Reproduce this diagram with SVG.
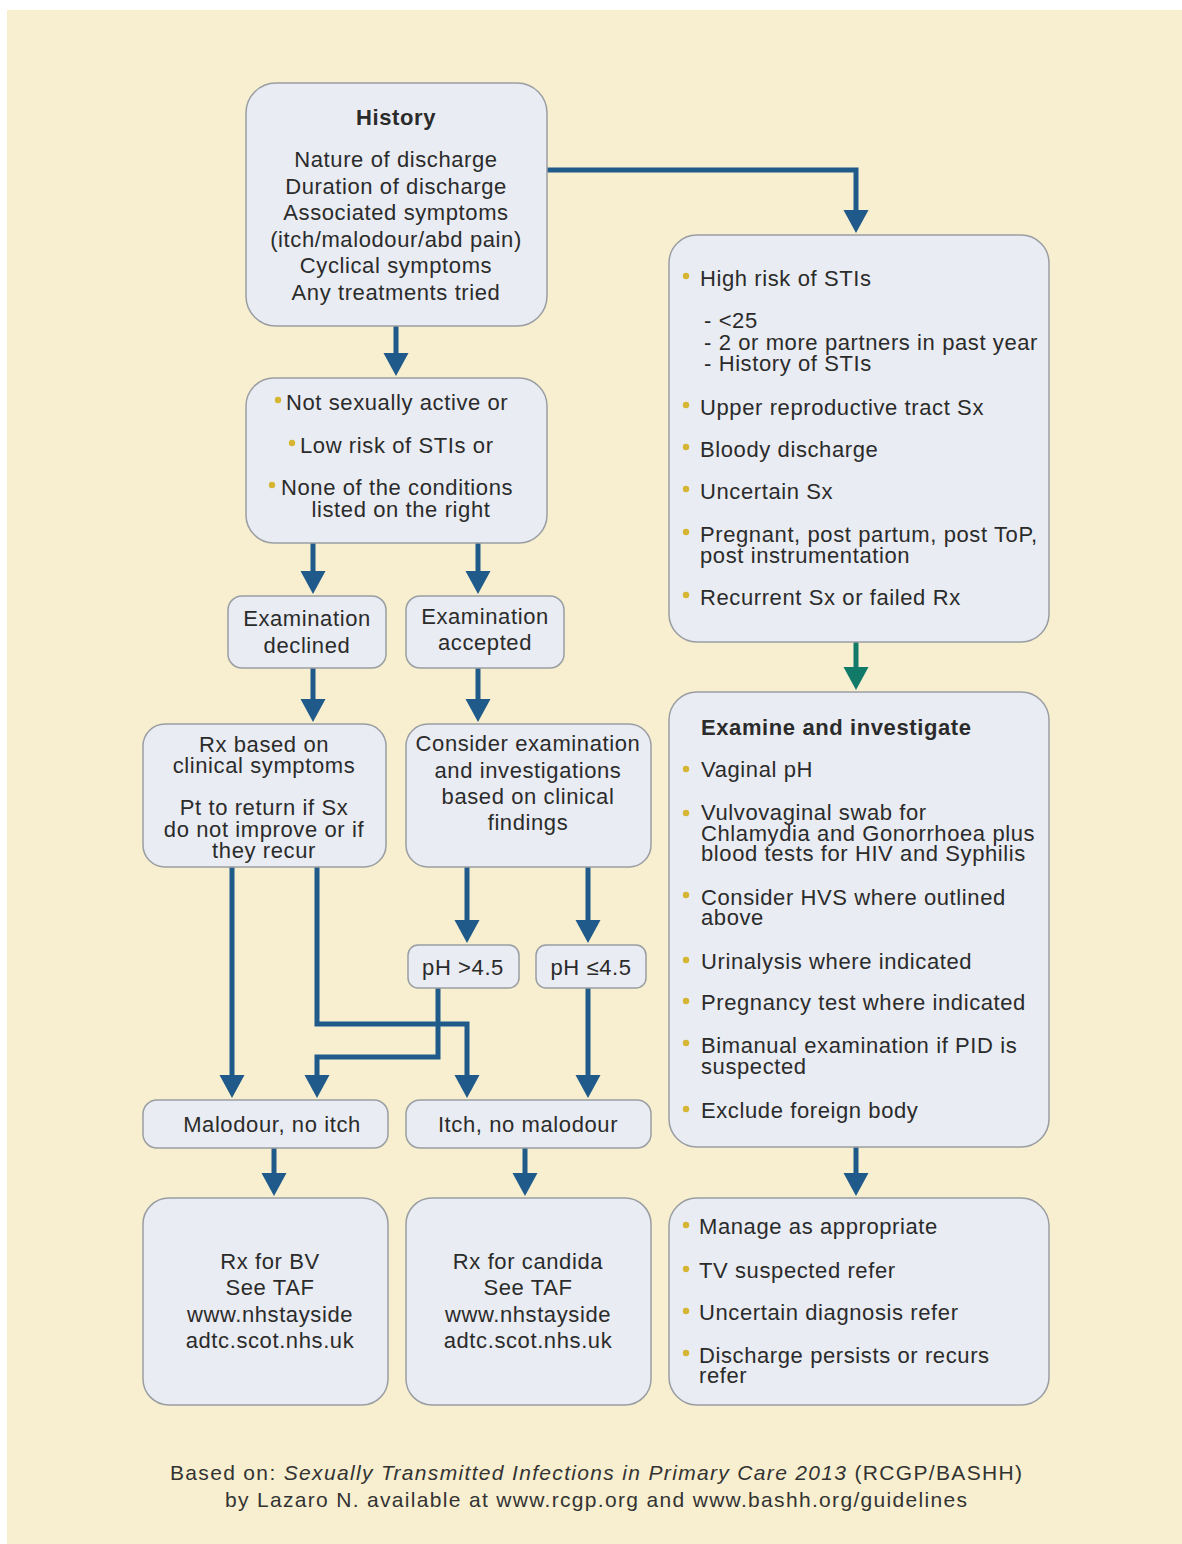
<svg xmlns="http://www.w3.org/2000/svg" width="1182" height="1544" viewBox="0 0 1182 1544">
<style>
.bg{fill:#f7efcf}
.box{fill:#e9ecf2;stroke:#9a9ea3;stroke-width:1.5}
.t{font-family:"Liberation Sans",Arial,sans-serif;font-size:22px;fill:#2b2b2b;letter-spacing:0.6px}
.c{text-anchor:middle}
.b{font-weight:bold}
.dot{fill:#d6b533}
.ar{fill:none;stroke:#1f5a8b;stroke-width:5}
.ag{fill:none;stroke:#117a69;stroke-width:5}
.ft{font-family:"Liberation Sans",Arial,sans-serif;font-size:21px;fill:#333;text-anchor:middle}
</style>
<defs>
<marker id="ah" markerUnits="userSpaceOnUse" markerWidth="26" markerHeight="26" viewBox="0 0 26 26" refX="13" refY="13" orient="auto"><path d="M0,0.5 L23,13 L0,25.5 z" fill="#1f5a8b"/></marker>
<marker id="ahg" markerUnits="userSpaceOnUse" markerWidth="26" markerHeight="26" viewBox="0 0 26 26" refX="13" refY="13" orient="auto"><path d="M0,0.5 L23,13 L0,25.5 z" fill="#117a69"/></marker>
</defs>
<rect x="0" y="0" width="1182" height="1544" fill="#ffffff"/>
<rect class="bg" x="7" y="10" width="1175" height="1534"/>

<g id="connectors">
<path class="ar" marker-end="url(#ah)" d="M547,170 H856 V223"/>
<path class="ar" marker-end="url(#ah)" d="M396,326 V366"/>
<path class="ar" marker-end="url(#ah)" d="M313,543 V584"/>
<path class="ar" marker-end="url(#ah)" d="M478,543 V584"/>
<path class="ar" marker-end="url(#ah)" d="M313,668 V712"/>
<path class="ar" marker-end="url(#ah)" d="M478,668 V712"/>
<path class="ar" marker-end="url(#ah)" d="M232,867 V1088"/>
<path class="ar" marker-end="url(#ah)" d="M317,867 V1024 H467 V1088"/>
<path class="ar" marker-end="url(#ah)" d="M467,867 V933"/>
<path class="ar" marker-end="url(#ah)" d="M588,867 V933"/>
<path class="ar" marker-end="url(#ah)" d="M438,988 V1057 H317 V1088"/>
<path class="ar" marker-end="url(#ah)" d="M588,988 V1088"/>
<path class="ar" marker-end="url(#ah)" d="M274,1148 V1186"/>
<path class="ar" marker-end="url(#ah)" d="M525,1148 V1186"/>
<path class="ag" marker-end="url(#ahg)" d="M856,642 V680"/>
<path class="ar" marker-end="url(#ah)" d="M856,1147 V1186"/>
</g>

<g id="history">
<rect class="box" x="246" y="83" width="301" height="243" rx="30"/>
<text class="t c b" x="396" y="125">History</text>
<text class="t c" x="396" y="167">Nature of discharge</text>
<text class="t c" x="396" y="194">Duration of discharge</text>
<text class="t c" x="396" y="220">Associated symptoms</text>
<text class="t c" x="396" y="247">(itch/malodour/abd pain)</text>
<text class="t c" x="396" y="273">Cyclical symptoms</text>
<text class="t c" x="396" y="300">Any treatments tried</text>
</g>

<g id="low-risk">
<rect class="box" x="246" y="378" width="301" height="165" rx="28"/>
<circle class="dot" cx="278" cy="400" r="3.2"/>
<text class="t" x="286" y="410">Not sexually active or</text>
<circle class="dot" cx="292" cy="443" r="3.2"/>
<text class="t" x="300" y="453">Low risk of STIs or</text>
<circle class="dot" cx="272" cy="485" r="3.2"/>
<text class="t" x="281" y="495">None of the conditions</text>
<text class="t c" x="401" y="517">listed on the right</text>
</g>

<g id="exam-declined">
<rect class="box" x="228" y="596" width="158" height="72" rx="14"/>
<text class="t c" x="307" y="626">Examination</text>
<text class="t c" x="307" y="653">declined</text>
</g>

<g id="exam-accepted">
<rect class="box" x="406" y="596" width="158" height="72" rx="14"/>
<text class="t c" x="485" y="624">Examination</text>
<text class="t c" x="485" y="650">accepted</text>
</g>

<g id="rx-clinical">
<rect class="box" x="143" y="724" width="243" height="143" rx="22"/>
<text class="t c" x="264" y="752">Rx based on</text>
<text class="t c" x="264" y="773">clinical symptoms</text>
<text class="t c" x="264" y="815">Pt to return if Sx</text>
<text class="t c" x="264" y="837">do not improve or if</text>
<text class="t c" x="264" y="858">they recur</text>
</g>

<g id="consider">
<rect class="box" x="406" y="724" width="245" height="143" rx="22"/>
<text class="t c" x="528" y="751">Consider examination</text>
<text class="t c" x="528" y="778">and investigations</text>
<text class="t c" x="528" y="804">based on clinical</text>
<text class="t c" x="528" y="830">findings</text>
</g>

<g id="ph-high">
<rect class="box" x="408" y="945" width="111" height="43" rx="10"/>
<text class="t c" x="463" y="975">pH &gt;4.5</text>
</g>

<g id="ph-low">
<rect class="box" x="536" y="945" width="110" height="43" rx="10"/>
<text class="t c" x="591" y="975">pH ≤4.5</text>
</g>

<g id="malodour">
<rect class="box" x="143" y="1100" width="245" height="48" rx="14"/>
<text class="t c" x="272" y="1132">Malodour, no itch</text>
</g>

<g id="itch">
<rect class="box" x="406" y="1100" width="245" height="48" rx="14"/>
<text class="t c" x="528" y="1132">Itch, no malodour</text>
</g>

<g id="rx-bv">
<rect class="box" x="143" y="1198" width="245" height="207" rx="26"/>
<text class="t c" x="270" y="1269">Rx for BV</text>
<text class="t c" x="270" y="1295">See TAF</text>
<text class="t c" x="270" y="1322">www.nhstayside</text>
<text class="t c" x="270" y="1348">adtc.scot.nhs.uk</text>
</g>

<g id="rx-candida">
<rect class="box" x="406" y="1198" width="245" height="207" rx="26"/>
<text class="t c" x="528" y="1269">Rx for candida</text>
<text class="t c" x="528" y="1295">See TAF</text>
<text class="t c" x="528" y="1322">www.nhstayside</text>
<text class="t c" x="528" y="1348">adtc.scot.nhs.uk</text>
</g>

<g id="high-risk">
<rect class="box" x="669" y="235" width="380" height="407" rx="28"/>
<circle class="dot" cx="686" cy="276" r="3.2"/>
<text class="t" x="700" y="286">High risk of STIs</text>
<text class="t" x="704" y="328">- &lt;25</text>
<text class="t" x="704" y="350">- 2 or more partners in past year</text>
<text class="t" x="704" y="371">- History of STIs</text>
<circle class="dot" cx="686" cy="405" r="3.2"/>
<text class="t" x="700" y="415">Upper reproductive tract Sx</text>
<circle class="dot" cx="686" cy="447" r="3.2"/>
<text class="t" x="700" y="457">Bloody discharge</text>
<circle class="dot" cx="686" cy="489" r="3.2"/>
<text class="t" x="700" y="499">Uncertain Sx</text>
<circle class="dot" cx="686" cy="532" r="3.2"/>
<text class="t" x="700" y="542">Pregnant, post partum, post ToP,</text>
<text class="t" x="700" y="563">post instrumentation</text>
<circle class="dot" cx="686" cy="595" r="3.2"/>
<text class="t" x="700" y="605">Recurrent Sx or failed Rx</text>
</g>

<g id="examine">
<rect class="box" x="669" y="692" width="380" height="455" rx="28"/>
<text class="t b" x="701" y="735">Examine and investigate</text>
<circle class="dot" cx="686" cy="769" r="3.2"/>
<text class="t" x="701" y="777">Vaginal pH</text>
<circle class="dot" cx="686" cy="813" r="3.2"/>
<text class="t" x="701" y="820">Vulvovaginal swab for</text>
<text class="t" x="701" y="841">Chlamydia and Gonorrhoea plus</text>
<text class="t" x="701" y="861">blood tests for HIV and Syphilis</text>
<circle class="dot" cx="686" cy="895" r="3.2"/>
<text class="t" x="701" y="905">Consider HVS where outlined</text>
<text class="t" x="701" y="925">above</text>
<circle class="dot" cx="686" cy="960" r="3.2"/>
<text class="t" x="701" y="969">Urinalysis where indicated</text>
<circle class="dot" cx="686" cy="1001" r="3.2"/>
<text class="t" x="701" y="1010">Pregnancy test where indicated</text>
<circle class="dot" cx="686" cy="1043" r="3.2"/>
<text class="t" x="701" y="1053">Bimanual examination if PID is</text>
<text class="t" x="701" y="1074">suspected</text>
<circle class="dot" cx="686" cy="1109" r="3.2"/>
<text class="t" x="701" y="1118">Exclude foreign body</text>
</g>

<g id="manage">
<rect class="box" x="669" y="1198" width="380" height="207" rx="28"/>
<circle class="dot" cx="686" cy="1225" r="3.2"/>
<text class="t" x="699" y="1234">Manage as appropriate</text>
<circle class="dot" cx="686" cy="1269" r="3.2"/>
<text class="t" x="699" y="1278">TV suspected refer</text>
<circle class="dot" cx="686" cy="1311" r="3.2"/>
<text class="t" x="699" y="1320">Uncertain diagnosis refer</text>
<circle class="dot" cx="686" cy="1353" r="3.2"/>
<text class="t" x="699" y="1363">Discharge persists or recurs</text>
<text class="t" x="699" y="1383">refer</text>
</g>

<g id="footer">
<text class="ft" x="596" y="1480" textLength="852" lengthAdjust="spacing">Based on: <tspan font-style="italic">Sexually Transmitted Infections in Primary Care 2013</tspan> (RCGP/BASHH)</text>
<text class="ft" x="596" y="1507" textLength="742" lengthAdjust="spacing">by Lazaro N. available at www.rcgp.org and www.bashh.org/guidelines</text>
</g>
</svg>
